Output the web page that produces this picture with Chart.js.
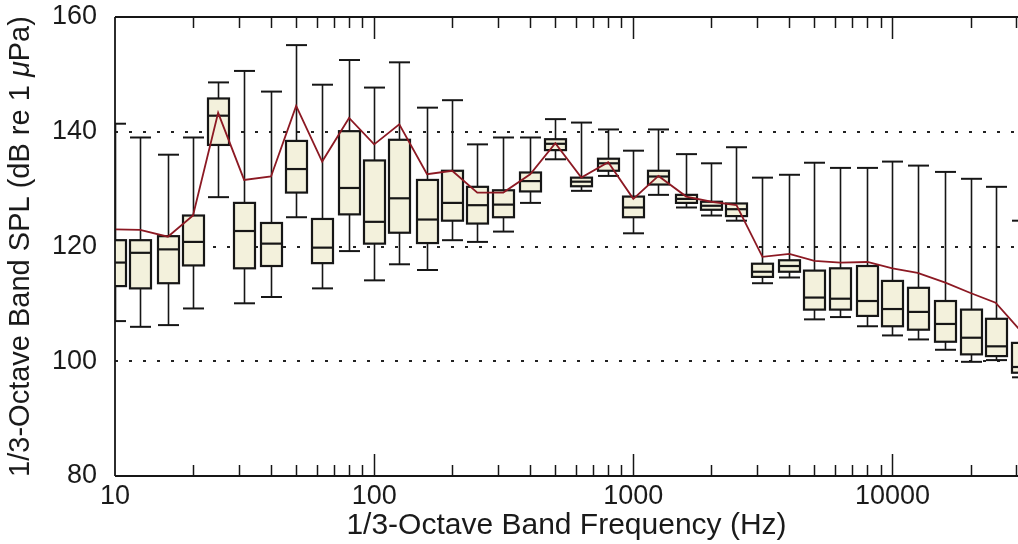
<!DOCTYPE html>
<html>
<head>
<meta charset="utf-8">
<script src="https://cdn.jsdelivr.net/npm/chart.js@4.4.0/dist/chart.umd.min.js"></script>
<style>
  html, body { margin: 0; padding: 0; background: #fff; }
  #wrap { width: 1018px; height: 544px; }
</style>
</head>
<body>
<div id="wrap"><canvas id="splChart"></canvas></div>
<script>
// 1/3-octave band centre frequencies (Hz)
const bandFreqs = [10, 12.5, 16, 20, 25, 31.5, 40, 50, 63, 80, 100, 125, 160, 200, 250, 315, 400, 500,
  630, 800, 1000, 1250, 1600, 2000, 2500, 3150, 4000, 5000, 6300, 8000, 10000, 12500, 16000, 20000, 25000, 31500];

// box plot statistics per band (dB re 1 uPa)
const whiskerHigh = [141.4, 139.0, 136.0, 139.0, 148.6, 150.6, 147.0, 155.1, 148.2, 152.5, 147.7, 152.1, 144.2, 145.5,
  137.8, 139.0, 139.0, 142.2, 141.6, 140.4, 136.7, 140.4, 136.1, 134.5, 137.3, 132.0, 132.5, 134.6, 133.7, 133.7,
  134.8, 134.1, 133.0, 131.8, 130.4, 124.5];
const upperQuartile = [121.1, 121.1, 121.8, 125.4, 145.8, 127.6, 124.1, 138.4, 124.8, 140.1, 135.0, 138.6, 131.6, 133.2,
  130.4, 129.8, 132.9, 138.7, 132.0, 135.3, 128.7, 133.2, 129.0, 127.8, 127.5, 117.0, 117.6, 115.8, 116.2, 116.6,
  114.0, 112.8, 110.5, 109.0, 107.4, 103.2];
const medians = [117.2, 118.9, 119.5, 120.8, 142.8, 122.7, 120.5, 133.5, 119.8, 130.2, 124.3, 128.4, 124.7, 127.6,
  127.2, 127.3, 131.4, 137.9, 131.3, 134.5, 126.8, 132.2, 128.3, 127.1, 126.5, 115.6, 116.6, 111.1, 110.9, 110.5,
  109.1, 108.6, 106.5, 104.1, 102.6, 99.0];
const lowerQuartile = [113.1, 112.7, 113.6, 116.7, 137.7, 116.2, 116.6, 129.4, 117.1, 125.6, 120.5, 122.4, 120.6, 124.5,
  124.0, 125.1, 129.6, 136.8, 130.5, 133.2, 125.1, 130.8, 127.6, 126.4, 125.3, 114.7, 115.6, 109.0, 109.0, 107.9,
  106.1, 105.5, 103.4, 101.2, 100.9, 98.0];
const whiskerLow = [107.0, 106.0, 106.3, 109.2, 128.6, 110.1, 111.2, 125.1, 112.7, 119.2, 114.1, 116.9, 115.9, 121.1,
  120.8, 122.6, 127.6, 135.2, 129.7, 132.3, 122.3, 129.0, 126.8, 125.4, 124.5, 113.6, 114.6, 107.3, 107.7, 106.1,
  104.5, 103.8, 102.0, 99.9, 100.2, 97.2];

// overall band level (red trace)
const bandLevel = [123.0, 122.9, 121.7, 125.4, 143.3, 131.6, 132.2, 144.5, 134.8, 142.4, 137.8, 141.3, 132.6, 133.2,
  129.4, 129.4, 132.6, 138.0, 132.0, 134.7, 128.3, 132.3, 128.7, 127.8, 127.2, 118.2, 118.7, 117.5, 117.2, 117.3,
  116.2, 115.4, 113.7, 111.9, 110.2, 105.1];

const decadeLabels = [10, 100, 1000, 10000];
const dottedLevels = [100, 120, 140];

// y title pieces: [text, italic]
const yTitleParts = [['1/3-Octave Band SPL (dB re 1 ', false], ['μ', true], ['Pa)', false]];

const BOX_W = 21;
const BOX_FILL = '#f3f1dc';
const INK = '#161616';

function seg(ctx, x1, y1, x2, y2) {
  ctx.beginPath();
  ctx.moveTo(x1, y1);
  ctx.lineTo(x2, y2);
  ctx.stroke();
}

// boxes and whiskers, drawn under the level trace
const boxPlot = {
  id: 'boxPlot',
  beforeDatasetsDraw(chart) {
    const { ctx, chartArea: a, scales: { x, y } } = chart;
    ctx.save();
    ctx.beginPath();
    ctx.rect(a.left, a.top, a.right - a.left, a.bottom - a.top);
    ctx.clip();
    ctx.strokeStyle = INK;
    bandFreqs.forEach((f, i) => {
      const cx = Math.round(x.getPixelForValue(f)) + 0.5;
      const h = BOX_W / 2;
      const yHi = y.getPixelForValue(whiskerHigh[i]);
      const yQ3 = y.getPixelForValue(upperQuartile[i]);
      const yMed = y.getPixelForValue(medians[i]);
      const yQ1 = y.getPixelForValue(lowerQuartile[i]);
      const yLo = y.getPixelForValue(whiskerLow[i]);

      ctx.lineWidth = 1.6;
      seg(ctx, cx, yHi, cx, yQ3);
      seg(ctx, cx, yQ1, cx, yLo);
      ctx.lineWidth = 2;
      seg(ctx, cx - h, yHi, cx + h, yHi);
      seg(ctx, cx - h, yLo, cx + h, yLo);

      ctx.fillStyle = BOX_FILL;
      ctx.fillRect(cx - h, yQ3, BOX_W, yQ1 - yQ3);
      ctx.lineWidth = 2.2;
      ctx.strokeRect(cx - h, yQ3, BOX_W, yQ1 - yQ3);
      seg(ctx, cx - h, yMed, cx + h, yMed);
    });
    ctx.restore();
  }
};

// axes frame with inward ticks on top and bottom, plus the y title
const frame = {
  id: 'frame',
  afterDraw(chart) {
    const { ctx, chartArea: a, scales: { x } } = chart;
    ctx.save();
    ctx.strokeStyle = INK;
    ctx.lineWidth = 1.8;
    seg(ctx, a.left, a.top, a.right, a.top);
    seg(ctx, a.left, a.bottom, a.right, a.bottom);
    seg(ctx, a.left, a.top, a.left, a.bottom);

    ctx.lineWidth = 1.5;
    for (let dec = 10; dec <= x.max; dec *= 10) {
      for (let m = 1; m <= 9; m++) {
        const v = dec * m;
        if (v <= x.min || v > x.max) continue;
        const px = Math.round(x.getPixelForValue(v)) + 0.5;
        const len = m === 1 ? 22 : 11;
        seg(ctx, px, a.bottom, px, a.bottom - len);
        seg(ctx, px, a.top, px, a.top + len);
      }
    }

    // rotated y title with an italic mu
    const fontFor = (it) => (it ? 'italic ' : '') + '29px "Liberation Sans"';
    let total = 0;
    yTitleParts.forEach(([t, it]) => { ctx.font = fontFor(it); total += ctx.measureText(t).width; });
    ctx.translate(21, (a.top + a.bottom) / 2);
    ctx.rotate(-Math.PI / 2);
    ctx.fillStyle = '#1a1a1a';
    ctx.textBaseline = 'middle';
    ctx.textAlign = 'left';
    let pos = -total / 2;
    yTitleParts.forEach(([t, it]) => {
      ctx.font = fontFor(it);
      ctx.fillText(t, pos, 0);
      pos += ctx.measureText(t).width;
    });
    ctx.restore();
  }
};

new Chart(document.getElementById('splChart'), {
  type: 'line',
  data: {
    datasets: [{
      label: 'Band level',
      data: bandFreqs.map((f, i) => ({ x: f, y: bandLevel[i] })),
      borderColor: '#8c1923',
      borderWidth: 1.8,
      pointRadius: 0,
      tension: 0,
      fill: false
    }]
  },
  options: {
    responsive: true,
    maintainAspectRatio: false,
    animation: false,
    layout: { padding: 0 },
    plugins: {
      legend: { display: false },
      tooltip: { enabled: false }
    },
    scales: {
      x: {
        type: 'logarithmic',
        min: 10,
        max: 30500,
        afterFit: (scale) => {
          scale.height = 68;
          scale.paddingLeft = 0;
          scale.paddingRight = 0;
        },
        grid: { display: false, drawTicks: false },
        border: { display: false },
        ticks: {
          autoSkip: false,
          maxRotation: 0,
          padding: 4,
          color: '#1a1a1a',
          font: { family: 'Liberation Sans', size: 27 },
          callback: (v) => decadeLabels.includes(v) ? String(v) : ''
        },
        title: {
          display: true,
          text: '1/3-Octave Band Frequency (Hz)',
          color: '#1a1a1a',
          font: { family: 'Liberation Sans', size: 30 },
          padding: { top: 3, bottom: 0 }
        }
      },
      y: {
        min: 80,
        max: 160,
        afterFit: (scale) => {
          scale.width = 115;
          scale.paddingTop = 17;
          scale.paddingBottom = 0;
        },
        grid: {
          drawTicks: false,
          lineWidth: 2,
          color: (c) => dottedLevels.includes(c.tick.value) ? '#222' : 'rgba(0,0,0,0)'
        },
        border: { display: false, dash: [3, 11] },
        ticks: {
          stepSize: 20,
          padding: 18,
          color: '#1a1a1a',
          font: { family: 'Liberation Sans', size: 27 }
        },
        title: { display: false }
      }
    }
  },
  plugins: [boxPlot, frame]
});
</script>
</body>
</html>
